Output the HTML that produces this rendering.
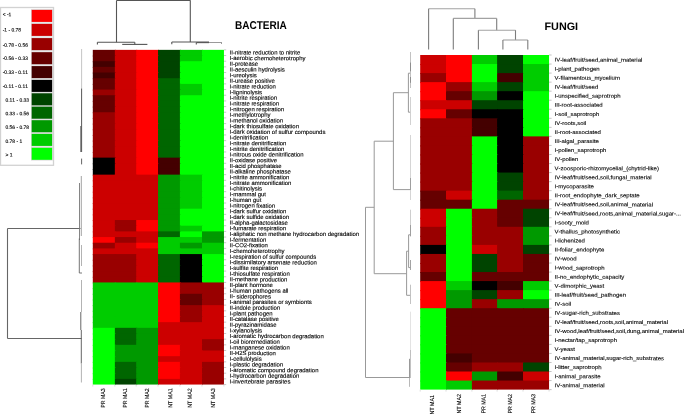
<!DOCTYPE html>
<html><head><meta charset="utf-8"><title>Heatmap</title>
<style>
html,body{margin:0;padding:0;background:#fff;}
body{width:685px;height:414px;overflow:hidden;}
svg{display:block;will-change:transform;text-rendering:geometricPrecision;font-kerning:none;font-family:"Liberation Sans",sans-serif;}
</style></head><body>
<svg width="685" height="414" viewBox="0 0 685 414" shape-rendering="crispEdges">
<rect x="0" y="0" width="685" height="414" fill="#ffffff"/>
<rect x="0.5" y="7.5" width="53" height="157.8" fill="#fff" stroke="#d2d2d2" stroke-width="1.3" shape-rendering="auto"/>
<rect x="31.0" y="9.20" width="21.8" height="13.4" fill="#d6d6d6" shape-rendering="auto"/>
<rect x="31.7" y="9.90" width="20.4" height="12.0" fill="#ff0000" shape-rendering="auto"/>
<text transform="translate(2.7,16.12) rotate(0.05)" font-size="4.95" fill="#000" stroke="#000" stroke-width="0.12">&lt; -1</text>
<rect x="31.0" y="23.20" width="21.8" height="13.4" fill="#d6d6d6" shape-rendering="auto"/>
<rect x="31.7" y="23.90" width="20.4" height="12.0" fill="#cc0000" shape-rendering="auto"/>
<text transform="translate(2.7,31.47) rotate(0.05)" font-size="4.95" fill="#000" stroke="#000" stroke-width="0.12">-1 - 0.78</text>
<rect x="31.0" y="37.40" width="21.8" height="13.4" fill="#d6d6d6" shape-rendering="auto"/>
<rect x="31.7" y="38.10" width="20.4" height="12.0" fill="#990000" shape-rendering="auto"/>
<text transform="translate(2.7,46.77) rotate(0.05)" font-size="4.95" fill="#000" stroke="#000" stroke-width="0.12">-0.78 - 0.56</text>
<rect x="31.0" y="51.50" width="21.8" height="13.4" fill="#d6d6d6" shape-rendering="auto"/>
<rect x="31.7" y="52.20" width="20.4" height="12.0" fill="#660000" shape-rendering="auto"/>
<text transform="translate(2.7,59.87) rotate(0.05)" font-size="4.95" fill="#000" stroke="#000" stroke-width="0.12">-0.56 - 0.33</text>
<rect x="31.0" y="65.40" width="21.8" height="13.4" fill="#d6d6d6" shape-rendering="auto"/>
<rect x="31.7" y="66.10" width="20.4" height="12.0" fill="#440000" shape-rendering="auto"/>
<text transform="translate(2.7,73.87) rotate(0.05)" font-size="4.95" fill="#000" stroke="#000" stroke-width="0.12">-0.33 - 0.11</text>
<rect x="31.0" y="79.20" width="21.8" height="13.4" fill="#d6d6d6" shape-rendering="auto"/>
<rect x="31.7" y="79.90" width="20.4" height="12.0" fill="#000000" shape-rendering="auto"/>
<text transform="translate(2.7,87.97) rotate(0.05)" font-size="4.95" fill="#000" stroke="#000" stroke-width="0.12">-0.11 - 0.11</text>
<rect x="31.0" y="92.60" width="21.8" height="13.4" fill="#d6d6d6" shape-rendering="auto"/>
<rect x="31.7" y="93.30" width="20.4" height="12.0" fill="#004400" shape-rendering="auto"/>
<text transform="translate(5.4,101.77) rotate(0.05)" font-size="4.95" fill="#000" stroke="#000" stroke-width="0.12">0.11 - 0.33</text>
<rect x="31.0" y="106.00" width="21.8" height="13.4" fill="#d6d6d6" shape-rendering="auto"/>
<rect x="31.7" y="106.70" width="20.4" height="12.0" fill="#006600" shape-rendering="auto"/>
<text transform="translate(5.4,115.27) rotate(0.05)" font-size="4.95" fill="#000" stroke="#000" stroke-width="0.12">0.33 - 0.56</text>
<rect x="31.0" y="119.50" width="21.8" height="13.4" fill="#d6d6d6" shape-rendering="auto"/>
<rect x="31.7" y="120.20" width="20.4" height="12.0" fill="#009900" shape-rendering="auto"/>
<text transform="translate(5.4,128.87) rotate(0.05)" font-size="4.95" fill="#000" stroke="#000" stroke-width="0.12">0.56 - 0.78</text>
<rect x="31.0" y="133.20" width="21.8" height="13.4" fill="#d6d6d6" shape-rendering="auto"/>
<rect x="31.7" y="133.90" width="20.4" height="12.0" fill="#00cc00" shape-rendering="auto"/>
<text transform="translate(5.4,142.97) rotate(0.05)" font-size="4.95" fill="#000" stroke="#000" stroke-width="0.12">0.78 - 1</text>
<rect x="31.0" y="147.10" width="21.8" height="13.4" fill="#d6d6d6" shape-rendering="auto"/>
<rect x="31.7" y="147.80" width="20.4" height="12.0" fill="#00ff00" shape-rendering="auto"/>
<text transform="translate(5.4,156.47) rotate(0.05)" font-size="4.95" fill="#000" stroke="#000" stroke-width="0.12">&gt; 1</text>
<g shape-rendering="auto">
<rect x="92.80" y="49.85" width="23.05" height="6.67" fill="#660000"/>
<rect x="114.85" y="49.85" width="22.35" height="6.67" fill="#cc0000"/>
<rect x="136.20" y="49.85" width="22.80" height="6.67" fill="#ff0000"/>
<rect x="158.00" y="49.85" width="22.90" height="6.67" fill="#004400"/>
<rect x="179.90" y="49.85" width="23.10" height="6.67" fill="#00cc00"/>
<rect x="202.00" y="49.85" width="21.95" height="6.67" fill="#00ff00"/>
<rect x="92.80" y="55.52" width="23.05" height="6.67" fill="#660000"/>
<rect x="114.85" y="55.52" width="22.35" height="6.67" fill="#cc0000"/>
<rect x="136.20" y="55.52" width="22.80" height="6.67" fill="#ff0000"/>
<rect x="158.00" y="55.52" width="22.90" height="6.67" fill="#004400"/>
<rect x="179.90" y="55.52" width="23.10" height="6.67" fill="#00cc00"/>
<rect x="202.00" y="55.52" width="21.95" height="6.67" fill="#00ff00"/>
<rect x="92.80" y="61.20" width="23.05" height="6.67" fill="#440000"/>
<rect x="114.85" y="61.20" width="22.35" height="6.67" fill="#cc0000"/>
<rect x="136.20" y="61.20" width="22.80" height="6.67" fill="#ff0000"/>
<rect x="158.00" y="61.20" width="22.90" height="6.67" fill="#004400"/>
<rect x="179.90" y="61.20" width="23.10" height="6.67" fill="#00ff00"/>
<rect x="202.00" y="61.20" width="21.95" height="6.67" fill="#00ff00"/>
<rect x="92.80" y="66.87" width="23.05" height="6.67" fill="#660000"/>
<rect x="114.85" y="66.87" width="22.35" height="6.67" fill="#cc0000"/>
<rect x="136.20" y="66.87" width="22.80" height="6.67" fill="#ff0000"/>
<rect x="158.00" y="66.87" width="22.90" height="6.67" fill="#004400"/>
<rect x="179.90" y="66.87" width="23.10" height="6.67" fill="#00ff00"/>
<rect x="202.00" y="66.87" width="21.95" height="6.67" fill="#00ff00"/>
<rect x="92.80" y="72.54" width="23.05" height="6.67" fill="#440000"/>
<rect x="114.85" y="72.54" width="22.35" height="6.67" fill="#cc0000"/>
<rect x="136.20" y="72.54" width="22.80" height="6.67" fill="#ff0000"/>
<rect x="158.00" y="72.54" width="22.90" height="6.67" fill="#004400"/>
<rect x="179.90" y="72.54" width="23.10" height="6.67" fill="#00ff00"/>
<rect x="202.00" y="72.54" width="21.95" height="6.67" fill="#00ff00"/>
<rect x="92.80" y="78.21" width="23.05" height="6.67" fill="#660000"/>
<rect x="114.85" y="78.21" width="22.35" height="6.67" fill="#cc0000"/>
<rect x="136.20" y="78.21" width="22.80" height="6.67" fill="#ff0000"/>
<rect x="158.00" y="78.21" width="22.90" height="6.67" fill="#006600"/>
<rect x="179.90" y="78.21" width="23.10" height="6.67" fill="#00ff00"/>
<rect x="202.00" y="78.21" width="21.95" height="6.67" fill="#00ff00"/>
<rect x="92.80" y="83.89" width="23.05" height="6.67" fill="#660000"/>
<rect x="114.85" y="83.89" width="22.35" height="6.67" fill="#cc0000"/>
<rect x="136.20" y="83.89" width="22.80" height="6.67" fill="#ff0000"/>
<rect x="158.00" y="83.89" width="22.90" height="6.67" fill="#006600"/>
<rect x="179.90" y="83.89" width="23.10" height="6.67" fill="#00cc00"/>
<rect x="202.00" y="83.89" width="21.95" height="6.67" fill="#00ff00"/>
<rect x="92.80" y="89.56" width="23.05" height="6.67" fill="#990000"/>
<rect x="114.85" y="89.56" width="22.35" height="6.67" fill="#cc0000"/>
<rect x="136.20" y="89.56" width="22.80" height="6.67" fill="#ff0000"/>
<rect x="158.00" y="89.56" width="22.90" height="6.67" fill="#006600"/>
<rect x="179.90" y="89.56" width="23.10" height="6.67" fill="#00cc00"/>
<rect x="202.00" y="89.56" width="21.95" height="6.67" fill="#00ff00"/>
<rect x="92.80" y="95.23" width="23.05" height="6.67" fill="#660000"/>
<rect x="114.85" y="95.23" width="22.35" height="6.67" fill="#cc0000"/>
<rect x="136.20" y="95.23" width="22.80" height="6.67" fill="#ff0000"/>
<rect x="158.00" y="95.23" width="22.90" height="6.67" fill="#006600"/>
<rect x="179.90" y="95.23" width="23.10" height="6.67" fill="#00ff00"/>
<rect x="202.00" y="95.23" width="21.95" height="6.67" fill="#00ff00"/>
<rect x="92.80" y="100.91" width="23.05" height="6.67" fill="#660000"/>
<rect x="114.85" y="100.91" width="22.35" height="6.67" fill="#cc0000"/>
<rect x="136.20" y="100.91" width="22.80" height="6.67" fill="#ff0000"/>
<rect x="158.00" y="100.91" width="22.90" height="6.67" fill="#006600"/>
<rect x="179.90" y="100.91" width="23.10" height="6.67" fill="#00ff00"/>
<rect x="202.00" y="100.91" width="21.95" height="6.67" fill="#00ff00"/>
<rect x="92.80" y="106.58" width="23.05" height="6.67" fill="#660000"/>
<rect x="114.85" y="106.58" width="22.35" height="6.67" fill="#cc0000"/>
<rect x="136.20" y="106.58" width="22.80" height="6.67" fill="#ff0000"/>
<rect x="158.00" y="106.58" width="22.90" height="6.67" fill="#006600"/>
<rect x="179.90" y="106.58" width="23.10" height="6.67" fill="#00ff00"/>
<rect x="202.00" y="106.58" width="21.95" height="6.67" fill="#00ff00"/>
<rect x="92.80" y="112.25" width="23.05" height="6.67" fill="#990000"/>
<rect x="114.85" y="112.25" width="22.35" height="6.67" fill="#cc0000"/>
<rect x="136.20" y="112.25" width="22.80" height="6.67" fill="#ff0000"/>
<rect x="158.00" y="112.25" width="22.90" height="6.67" fill="#006600"/>
<rect x="179.90" y="112.25" width="23.10" height="6.67" fill="#00ff00"/>
<rect x="202.00" y="112.25" width="21.95" height="6.67" fill="#00ff00"/>
<rect x="92.80" y="117.92" width="23.05" height="6.67" fill="#990000"/>
<rect x="114.85" y="117.92" width="22.35" height="6.67" fill="#cc0000"/>
<rect x="136.20" y="117.92" width="22.80" height="6.67" fill="#ff0000"/>
<rect x="158.00" y="117.92" width="22.90" height="6.67" fill="#006600"/>
<rect x="179.90" y="117.92" width="23.10" height="6.67" fill="#00ff00"/>
<rect x="202.00" y="117.92" width="21.95" height="6.67" fill="#00ff00"/>
<rect x="92.80" y="123.60" width="23.05" height="6.67" fill="#990000"/>
<rect x="114.85" y="123.60" width="22.35" height="6.67" fill="#cc0000"/>
<rect x="136.20" y="123.60" width="22.80" height="6.67" fill="#ff0000"/>
<rect x="158.00" y="123.60" width="22.90" height="6.67" fill="#006600"/>
<rect x="179.90" y="123.60" width="23.10" height="6.67" fill="#00ff00"/>
<rect x="202.00" y="123.60" width="21.95" height="6.67" fill="#00ff00"/>
<rect x="92.80" y="129.27" width="23.05" height="6.67" fill="#990000"/>
<rect x="114.85" y="129.27" width="22.35" height="6.67" fill="#cc0000"/>
<rect x="136.20" y="129.27" width="22.80" height="6.67" fill="#ff0000"/>
<rect x="158.00" y="129.27" width="22.90" height="6.67" fill="#006600"/>
<rect x="179.90" y="129.27" width="23.10" height="6.67" fill="#00ff00"/>
<rect x="202.00" y="129.27" width="21.95" height="6.67" fill="#00ff00"/>
<rect x="92.80" y="134.94" width="23.05" height="6.67" fill="#990000"/>
<rect x="114.85" y="134.94" width="22.35" height="6.67" fill="#cc0000"/>
<rect x="136.20" y="134.94" width="22.80" height="6.67" fill="#ff0000"/>
<rect x="158.00" y="134.94" width="22.90" height="6.67" fill="#006600"/>
<rect x="179.90" y="134.94" width="23.10" height="6.67" fill="#00ff00"/>
<rect x="202.00" y="134.94" width="21.95" height="6.67" fill="#00ff00"/>
<rect x="92.80" y="140.62" width="23.05" height="6.67" fill="#990000"/>
<rect x="114.85" y="140.62" width="22.35" height="6.67" fill="#cc0000"/>
<rect x="136.20" y="140.62" width="22.80" height="6.67" fill="#ff0000"/>
<rect x="158.00" y="140.62" width="22.90" height="6.67" fill="#006600"/>
<rect x="179.90" y="140.62" width="23.10" height="6.67" fill="#00ff00"/>
<rect x="202.00" y="140.62" width="21.95" height="6.67" fill="#00ff00"/>
<rect x="92.80" y="146.29" width="23.05" height="6.67" fill="#990000"/>
<rect x="114.85" y="146.29" width="22.35" height="6.67" fill="#cc0000"/>
<rect x="136.20" y="146.29" width="22.80" height="6.67" fill="#ff0000"/>
<rect x="158.00" y="146.29" width="22.90" height="6.67" fill="#006600"/>
<rect x="179.90" y="146.29" width="23.10" height="6.67" fill="#00ff00"/>
<rect x="202.00" y="146.29" width="21.95" height="6.67" fill="#00ff00"/>
<rect x="92.80" y="151.96" width="23.05" height="6.67" fill="#990000"/>
<rect x="114.85" y="151.96" width="22.35" height="6.67" fill="#cc0000"/>
<rect x="136.20" y="151.96" width="22.80" height="6.67" fill="#ff0000"/>
<rect x="158.00" y="151.96" width="22.90" height="6.67" fill="#006600"/>
<rect x="179.90" y="151.96" width="23.10" height="6.67" fill="#00ff00"/>
<rect x="202.00" y="151.96" width="21.95" height="6.67" fill="#00ff00"/>
<rect x="92.80" y="157.63" width="23.05" height="6.67" fill="#000000"/>
<rect x="114.85" y="157.63" width="22.35" height="6.67" fill="#cc0000"/>
<rect x="136.20" y="157.63" width="22.80" height="6.67" fill="#ff0000"/>
<rect x="158.00" y="157.63" width="22.90" height="6.67" fill="#440000"/>
<rect x="179.90" y="157.63" width="23.10" height="6.67" fill="#00ff00"/>
<rect x="202.00" y="157.63" width="21.95" height="6.67" fill="#00ff00"/>
<rect x="92.80" y="163.31" width="23.05" height="6.67" fill="#000000"/>
<rect x="114.85" y="163.31" width="22.35" height="6.67" fill="#cc0000"/>
<rect x="136.20" y="163.31" width="22.80" height="6.67" fill="#ff0000"/>
<rect x="158.00" y="163.31" width="22.90" height="6.67" fill="#440000"/>
<rect x="179.90" y="163.31" width="23.10" height="6.67" fill="#00ff00"/>
<rect x="202.00" y="163.31" width="21.95" height="6.67" fill="#00ff00"/>
<rect x="92.80" y="168.98" width="23.05" height="6.67" fill="#000000"/>
<rect x="114.85" y="168.98" width="22.35" height="6.67" fill="#cc0000"/>
<rect x="136.20" y="168.98" width="22.80" height="6.67" fill="#ff0000"/>
<rect x="158.00" y="168.98" width="22.90" height="6.67" fill="#440000"/>
<rect x="179.90" y="168.98" width="23.10" height="6.67" fill="#00ff00"/>
<rect x="202.00" y="168.98" width="21.95" height="6.67" fill="#00ff00"/>
<rect x="92.80" y="174.65" width="23.05" height="6.67" fill="#cc0000"/>
<rect x="114.85" y="174.65" width="22.35" height="6.67" fill="#cc0000"/>
<rect x="136.20" y="174.65" width="22.80" height="6.67" fill="#cc0000"/>
<rect x="158.00" y="174.65" width="22.90" height="6.67" fill="#009900"/>
<rect x="179.90" y="174.65" width="23.10" height="6.67" fill="#00cc00"/>
<rect x="202.00" y="174.65" width="21.95" height="6.67" fill="#00ff00"/>
<rect x="92.80" y="180.33" width="23.05" height="6.67" fill="#cc0000"/>
<rect x="114.85" y="180.33" width="22.35" height="6.67" fill="#cc0000"/>
<rect x="136.20" y="180.33" width="22.80" height="6.67" fill="#cc0000"/>
<rect x="158.00" y="180.33" width="22.90" height="6.67" fill="#009900"/>
<rect x="179.90" y="180.33" width="23.10" height="6.67" fill="#00cc00"/>
<rect x="202.00" y="180.33" width="21.95" height="6.67" fill="#00ff00"/>
<rect x="92.80" y="186.00" width="23.05" height="6.67" fill="#cc0000"/>
<rect x="114.85" y="186.00" width="22.35" height="6.67" fill="#cc0000"/>
<rect x="136.20" y="186.00" width="22.80" height="6.67" fill="#cc0000"/>
<rect x="158.00" y="186.00" width="22.90" height="6.67" fill="#009900"/>
<rect x="179.90" y="186.00" width="23.10" height="6.67" fill="#00cc00"/>
<rect x="202.00" y="186.00" width="21.95" height="6.67" fill="#00ff00"/>
<rect x="92.80" y="191.67" width="23.05" height="6.67" fill="#cc0000"/>
<rect x="114.85" y="191.67" width="22.35" height="6.67" fill="#cc0000"/>
<rect x="136.20" y="191.67" width="22.80" height="6.67" fill="#cc0000"/>
<rect x="158.00" y="191.67" width="22.90" height="6.67" fill="#009900"/>
<rect x="179.90" y="191.67" width="23.10" height="6.67" fill="#00cc00"/>
<rect x="202.00" y="191.67" width="21.95" height="6.67" fill="#00ff00"/>
<rect x="92.80" y="197.34" width="23.05" height="6.67" fill="#cc0000"/>
<rect x="114.85" y="197.34" width="22.35" height="6.67" fill="#cc0000"/>
<rect x="136.20" y="197.34" width="22.80" height="6.67" fill="#cc0000"/>
<rect x="158.00" y="197.34" width="22.90" height="6.67" fill="#009900"/>
<rect x="179.90" y="197.34" width="23.10" height="6.67" fill="#00cc00"/>
<rect x="202.00" y="197.34" width="21.95" height="6.67" fill="#00ff00"/>
<rect x="92.80" y="203.02" width="23.05" height="6.67" fill="#cc0000"/>
<rect x="114.85" y="203.02" width="22.35" height="6.67" fill="#cc0000"/>
<rect x="136.20" y="203.02" width="22.80" height="6.67" fill="#cc0000"/>
<rect x="158.00" y="203.02" width="22.90" height="6.67" fill="#009900"/>
<rect x="179.90" y="203.02" width="23.10" height="6.67" fill="#00cc00"/>
<rect x="202.00" y="203.02" width="21.95" height="6.67" fill="#00ff00"/>
<rect x="92.80" y="208.69" width="23.05" height="6.67" fill="#cc0000"/>
<rect x="114.85" y="208.69" width="22.35" height="6.67" fill="#cc0000"/>
<rect x="136.20" y="208.69" width="22.80" height="6.67" fill="#cc0000"/>
<rect x="158.00" y="208.69" width="22.90" height="6.67" fill="#009900"/>
<rect x="179.90" y="208.69" width="23.10" height="6.67" fill="#00ff00"/>
<rect x="202.00" y="208.69" width="21.95" height="6.67" fill="#00ff00"/>
<rect x="92.80" y="214.36" width="23.05" height="6.67" fill="#cc0000"/>
<rect x="114.85" y="214.36" width="22.35" height="6.67" fill="#cc0000"/>
<rect x="136.20" y="214.36" width="22.80" height="6.67" fill="#cc0000"/>
<rect x="158.00" y="214.36" width="22.90" height="6.67" fill="#009900"/>
<rect x="179.90" y="214.36" width="23.10" height="6.67" fill="#00ff00"/>
<rect x="202.00" y="214.36" width="21.95" height="6.67" fill="#00ff00"/>
<rect x="92.80" y="220.04" width="23.05" height="6.67" fill="#cc0000"/>
<rect x="114.85" y="220.04" width="22.35" height="6.67" fill="#990000"/>
<rect x="136.20" y="220.04" width="22.80" height="6.67" fill="#ff0000"/>
<rect x="158.00" y="220.04" width="22.90" height="6.67" fill="#009900"/>
<rect x="179.90" y="220.04" width="23.10" height="6.67" fill="#00ff00"/>
<rect x="202.00" y="220.04" width="21.95" height="6.67" fill="#00ff00"/>
<rect x="92.80" y="225.71" width="23.05" height="6.67" fill="#cc0000"/>
<rect x="114.85" y="225.71" width="22.35" height="6.67" fill="#990000"/>
<rect x="136.20" y="225.71" width="22.80" height="6.67" fill="#ff0000"/>
<rect x="158.00" y="225.71" width="22.90" height="6.67" fill="#009900"/>
<rect x="179.90" y="225.71" width="23.10" height="6.67" fill="#00cc00"/>
<rect x="202.00" y="225.71" width="21.95" height="6.67" fill="#00ff00"/>
<rect x="92.80" y="231.38" width="23.05" height="6.67" fill="#cc0000"/>
<rect x="114.85" y="231.38" width="22.35" height="6.67" fill="#cc0000"/>
<rect x="136.20" y="231.38" width="22.80" height="6.67" fill="#cc0000"/>
<rect x="158.00" y="231.38" width="22.90" height="6.67" fill="#006600"/>
<rect x="179.90" y="231.38" width="23.10" height="6.67" fill="#00ff00"/>
<rect x="202.00" y="231.38" width="21.95" height="6.67" fill="#009900"/>
<rect x="92.80" y="237.06" width="23.05" height="6.67" fill="#ff0000"/>
<rect x="114.85" y="237.06" width="22.35" height="6.67" fill="#990000"/>
<rect x="136.20" y="237.06" width="22.80" height="6.67" fill="#cc0000"/>
<rect x="158.00" y="237.06" width="22.90" height="6.67" fill="#00cc00"/>
<rect x="179.90" y="237.06" width="23.10" height="6.67" fill="#00cc00"/>
<rect x="202.00" y="237.06" width="21.95" height="6.67" fill="#009900"/>
<rect x="92.80" y="242.73" width="23.05" height="6.67" fill="#990000"/>
<rect x="114.85" y="242.73" width="22.35" height="6.67" fill="#cc0000"/>
<rect x="136.20" y="242.73" width="22.80" height="6.67" fill="#ff0000"/>
<rect x="158.00" y="242.73" width="22.90" height="6.67" fill="#00cc00"/>
<rect x="179.90" y="242.73" width="23.10" height="6.67" fill="#009900"/>
<rect x="202.00" y="242.73" width="21.95" height="6.67" fill="#00cc00"/>
<rect x="92.80" y="248.40" width="23.05" height="6.67" fill="#cc0000"/>
<rect x="114.85" y="248.40" width="22.35" height="6.67" fill="#cc0000"/>
<rect x="136.20" y="248.40" width="22.80" height="6.67" fill="#cc0000"/>
<rect x="158.00" y="248.40" width="22.90" height="6.67" fill="#00cc00"/>
<rect x="179.90" y="248.40" width="23.10" height="6.67" fill="#00cc00"/>
<rect x="202.00" y="248.40" width="21.95" height="6.67" fill="#00cc00"/>
<rect x="92.80" y="254.07" width="23.05" height="6.67" fill="#990000"/>
<rect x="114.85" y="254.07" width="22.35" height="6.67" fill="#990000"/>
<rect x="136.20" y="254.07" width="22.80" height="6.67" fill="#cc0000"/>
<rect x="158.00" y="254.07" width="22.90" height="6.67" fill="#006600"/>
<rect x="179.90" y="254.07" width="23.10" height="6.67" fill="#000000"/>
<rect x="202.00" y="254.07" width="21.95" height="6.67" fill="#00ff00"/>
<rect x="92.80" y="259.75" width="23.05" height="6.67" fill="#990000"/>
<rect x="114.85" y="259.75" width="22.35" height="6.67" fill="#990000"/>
<rect x="136.20" y="259.75" width="22.80" height="6.67" fill="#cc0000"/>
<rect x="158.00" y="259.75" width="22.90" height="6.67" fill="#006600"/>
<rect x="179.90" y="259.75" width="23.10" height="6.67" fill="#000000"/>
<rect x="202.00" y="259.75" width="21.95" height="6.67" fill="#00ff00"/>
<rect x="92.80" y="265.42" width="23.05" height="6.67" fill="#990000"/>
<rect x="114.85" y="265.42" width="22.35" height="6.67" fill="#990000"/>
<rect x="136.20" y="265.42" width="22.80" height="6.67" fill="#cc0000"/>
<rect x="158.00" y="265.42" width="22.90" height="6.67" fill="#006600"/>
<rect x="179.90" y="265.42" width="23.10" height="6.67" fill="#000000"/>
<rect x="202.00" y="265.42" width="21.95" height="6.67" fill="#00ff00"/>
<rect x="92.80" y="271.09" width="23.05" height="6.67" fill="#990000"/>
<rect x="114.85" y="271.09" width="22.35" height="6.67" fill="#990000"/>
<rect x="136.20" y="271.09" width="22.80" height="6.67" fill="#cc0000"/>
<rect x="158.00" y="271.09" width="22.90" height="6.67" fill="#006600"/>
<rect x="179.90" y="271.09" width="23.10" height="6.67" fill="#000000"/>
<rect x="202.00" y="271.09" width="21.95" height="6.67" fill="#00ff00"/>
<rect x="92.80" y="276.77" width="23.05" height="6.67" fill="#990000"/>
<rect x="114.85" y="276.77" width="22.35" height="6.67" fill="#990000"/>
<rect x="136.20" y="276.77" width="22.80" height="6.67" fill="#cc0000"/>
<rect x="158.00" y="276.77" width="22.90" height="6.67" fill="#006600"/>
<rect x="179.90" y="276.77" width="23.10" height="6.67" fill="#000000"/>
<rect x="202.00" y="276.77" width="21.95" height="6.67" fill="#00ff00"/>
<rect x="92.80" y="282.44" width="23.05" height="6.67" fill="#00cc00"/>
<rect x="114.85" y="282.44" width="22.35" height="6.67" fill="#00cc00"/>
<rect x="136.20" y="282.44" width="22.80" height="6.67" fill="#00cc00"/>
<rect x="158.00" y="282.44" width="22.90" height="6.67" fill="#ff0000"/>
<rect x="179.90" y="282.44" width="23.10" height="6.67" fill="#990000"/>
<rect x="202.00" y="282.44" width="21.95" height="6.67" fill="#990000"/>
<rect x="92.80" y="288.11" width="23.05" height="6.67" fill="#00cc00"/>
<rect x="114.85" y="288.11" width="22.35" height="6.67" fill="#00cc00"/>
<rect x="136.20" y="288.11" width="22.80" height="6.67" fill="#00cc00"/>
<rect x="158.00" y="288.11" width="22.90" height="6.67" fill="#ff0000"/>
<rect x="179.90" y="288.11" width="23.10" height="6.67" fill="#990000"/>
<rect x="202.00" y="288.11" width="21.95" height="6.67" fill="#990000"/>
<rect x="92.80" y="293.78" width="23.05" height="6.67" fill="#00cc00"/>
<rect x="114.85" y="293.78" width="22.35" height="6.67" fill="#00cc00"/>
<rect x="136.20" y="293.78" width="22.80" height="6.67" fill="#00cc00"/>
<rect x="158.00" y="293.78" width="22.90" height="6.67" fill="#ff0000"/>
<rect x="179.90" y="293.78" width="23.10" height="6.67" fill="#660000"/>
<rect x="202.00" y="293.78" width="21.95" height="6.67" fill="#990000"/>
<rect x="92.80" y="299.46" width="23.05" height="6.67" fill="#00cc00"/>
<rect x="114.85" y="299.46" width="22.35" height="6.67" fill="#00cc00"/>
<rect x="136.20" y="299.46" width="22.80" height="6.67" fill="#00cc00"/>
<rect x="158.00" y="299.46" width="22.90" height="6.67" fill="#ff0000"/>
<rect x="179.90" y="299.46" width="23.10" height="6.67" fill="#660000"/>
<rect x="202.00" y="299.46" width="21.95" height="6.67" fill="#990000"/>
<rect x="92.80" y="305.13" width="23.05" height="6.67" fill="#00cc00"/>
<rect x="114.85" y="305.13" width="22.35" height="6.67" fill="#00cc00"/>
<rect x="136.20" y="305.13" width="22.80" height="6.67" fill="#00cc00"/>
<rect x="158.00" y="305.13" width="22.90" height="6.67" fill="#ff0000"/>
<rect x="179.90" y="305.13" width="23.10" height="6.67" fill="#990000"/>
<rect x="202.00" y="305.13" width="21.95" height="6.67" fill="#cc0000"/>
<rect x="92.80" y="310.80" width="23.05" height="6.67" fill="#00cc00"/>
<rect x="114.85" y="310.80" width="22.35" height="6.67" fill="#00cc00"/>
<rect x="136.20" y="310.80" width="22.80" height="6.67" fill="#00cc00"/>
<rect x="158.00" y="310.80" width="22.90" height="6.67" fill="#ff0000"/>
<rect x="179.90" y="310.80" width="23.10" height="6.67" fill="#990000"/>
<rect x="202.00" y="310.80" width="21.95" height="6.67" fill="#cc0000"/>
<rect x="92.80" y="316.48" width="23.05" height="6.67" fill="#00cc00"/>
<rect x="114.85" y="316.48" width="22.35" height="6.67" fill="#00cc00"/>
<rect x="136.20" y="316.48" width="22.80" height="6.67" fill="#00cc00"/>
<rect x="158.00" y="316.48" width="22.90" height="6.67" fill="#ff0000"/>
<rect x="179.90" y="316.48" width="23.10" height="6.67" fill="#990000"/>
<rect x="202.00" y="316.48" width="21.95" height="6.67" fill="#cc0000"/>
<rect x="92.80" y="322.15" width="23.05" height="6.67" fill="#00cc00"/>
<rect x="114.85" y="322.15" width="22.35" height="6.67" fill="#00cc00"/>
<rect x="136.20" y="322.15" width="22.80" height="6.67" fill="#00cc00"/>
<rect x="158.00" y="322.15" width="22.90" height="6.67" fill="#cc0000"/>
<rect x="179.90" y="322.15" width="23.10" height="6.67" fill="#cc0000"/>
<rect x="202.00" y="322.15" width="21.95" height="6.67" fill="#cc0000"/>
<rect x="92.80" y="327.82" width="23.05" height="6.67" fill="#00ff00"/>
<rect x="114.85" y="327.82" width="22.35" height="6.67" fill="#006600"/>
<rect x="136.20" y="327.82" width="22.80" height="6.67" fill="#009900"/>
<rect x="158.00" y="327.82" width="22.90" height="6.67" fill="#cc0000"/>
<rect x="179.90" y="327.82" width="23.10" height="6.67" fill="#cc0000"/>
<rect x="202.00" y="327.82" width="21.95" height="6.67" fill="#cc0000"/>
<rect x="92.80" y="333.49" width="23.05" height="6.67" fill="#00ff00"/>
<rect x="114.85" y="333.49" width="22.35" height="6.67" fill="#006600"/>
<rect x="136.20" y="333.49" width="22.80" height="6.67" fill="#009900"/>
<rect x="158.00" y="333.49" width="22.90" height="6.67" fill="#cc0000"/>
<rect x="179.90" y="333.49" width="23.10" height="6.67" fill="#cc0000"/>
<rect x="202.00" y="333.49" width="21.95" height="6.67" fill="#cc0000"/>
<rect x="92.80" y="339.17" width="23.05" height="6.67" fill="#00ff00"/>
<rect x="114.85" y="339.17" width="22.35" height="6.67" fill="#006600"/>
<rect x="136.20" y="339.17" width="22.80" height="6.67" fill="#009900"/>
<rect x="158.00" y="339.17" width="22.90" height="6.67" fill="#cc0000"/>
<rect x="179.90" y="339.17" width="23.10" height="6.67" fill="#cc0000"/>
<rect x="202.00" y="339.17" width="21.95" height="6.67" fill="#990000"/>
<rect x="92.80" y="344.84" width="23.05" height="6.67" fill="#00ff00"/>
<rect x="114.85" y="344.84" width="22.35" height="6.67" fill="#009900"/>
<rect x="136.20" y="344.84" width="22.80" height="6.67" fill="#009900"/>
<rect x="158.00" y="344.84" width="22.90" height="6.67" fill="#ff0000"/>
<rect x="179.90" y="344.84" width="23.10" height="6.67" fill="#cc0000"/>
<rect x="202.00" y="344.84" width="21.95" height="6.67" fill="#990000"/>
<rect x="92.80" y="350.51" width="23.05" height="6.67" fill="#00ff00"/>
<rect x="114.85" y="350.51" width="22.35" height="6.67" fill="#009900"/>
<rect x="136.20" y="350.51" width="22.80" height="6.67" fill="#009900"/>
<rect x="158.00" y="350.51" width="22.90" height="6.67" fill="#ff0000"/>
<rect x="179.90" y="350.51" width="23.10" height="6.67" fill="#cc0000"/>
<rect x="202.00" y="350.51" width="21.95" height="6.67" fill="#cc0000"/>
<rect x="92.80" y="356.19" width="23.05" height="6.67" fill="#00ff00"/>
<rect x="114.85" y="356.19" width="22.35" height="6.67" fill="#009900"/>
<rect x="136.20" y="356.19" width="22.80" height="6.67" fill="#009900"/>
<rect x="158.00" y="356.19" width="22.90" height="6.67" fill="#cc0000"/>
<rect x="179.90" y="356.19" width="23.10" height="6.67" fill="#cc0000"/>
<rect x="202.00" y="356.19" width="21.95" height="6.67" fill="#cc0000"/>
<rect x="92.80" y="361.86" width="23.05" height="6.67" fill="#00ff00"/>
<rect x="114.85" y="361.86" width="22.35" height="6.67" fill="#006600"/>
<rect x="136.20" y="361.86" width="22.80" height="6.67" fill="#009900"/>
<rect x="158.00" y="361.86" width="22.90" height="6.67" fill="#ff0000"/>
<rect x="179.90" y="361.86" width="23.10" height="6.67" fill="#cc0000"/>
<rect x="202.00" y="361.86" width="21.95" height="6.67" fill="#990000"/>
<rect x="92.80" y="367.53" width="23.05" height="6.67" fill="#00ff00"/>
<rect x="114.85" y="367.53" width="22.35" height="6.67" fill="#006600"/>
<rect x="136.20" y="367.53" width="22.80" height="6.67" fill="#009900"/>
<rect x="158.00" y="367.53" width="22.90" height="6.67" fill="#ff0000"/>
<rect x="179.90" y="367.53" width="23.10" height="6.67" fill="#cc0000"/>
<rect x="202.00" y="367.53" width="21.95" height="6.67" fill="#990000"/>
<rect x="92.80" y="373.20" width="23.05" height="6.67" fill="#00ff00"/>
<rect x="114.85" y="373.20" width="22.35" height="6.67" fill="#006600"/>
<rect x="136.20" y="373.20" width="22.80" height="6.67" fill="#009900"/>
<rect x="158.00" y="373.20" width="22.90" height="6.67" fill="#ff0000"/>
<rect x="179.90" y="373.20" width="23.10" height="6.67" fill="#cc0000"/>
<rect x="202.00" y="373.20" width="21.95" height="6.67" fill="#990000"/>
<rect x="92.80" y="378.88" width="23.05" height="5.67" fill="#00ff00"/>
<rect x="114.85" y="378.88" width="22.35" height="5.67" fill="#004400"/>
<rect x="136.20" y="378.88" width="22.80" height="5.67" fill="#009900"/>
<rect x="158.00" y="378.88" width="22.90" height="5.67" fill="#cc0000"/>
<rect x="179.90" y="378.88" width="23.10" height="5.67" fill="#cc0000"/>
<rect x="202.00" y="378.88" width="21.95" height="5.67" fill="#990000"/>
</g>
<line x1="224.00" y1="49.85" x2="226.20" y2="49.85" stroke="#b0b0b0" stroke-width="0.7" shape-rendering="auto"/>
<line x1="224.00" y1="55.52" x2="226.20" y2="55.52" stroke="#b0b0b0" stroke-width="0.7" shape-rendering="auto"/>
<line x1="224.00" y1="61.20" x2="226.20" y2="61.20" stroke="#b0b0b0" stroke-width="0.7" shape-rendering="auto"/>
<line x1="224.00" y1="66.87" x2="226.20" y2="66.87" stroke="#b0b0b0" stroke-width="0.7" shape-rendering="auto"/>
<line x1="224.00" y1="72.54" x2="226.20" y2="72.54" stroke="#b0b0b0" stroke-width="0.7" shape-rendering="auto"/>
<line x1="224.00" y1="78.21" x2="226.20" y2="78.21" stroke="#b0b0b0" stroke-width="0.7" shape-rendering="auto"/>
<line x1="224.00" y1="83.89" x2="226.20" y2="83.89" stroke="#b0b0b0" stroke-width="0.7" shape-rendering="auto"/>
<line x1="224.00" y1="89.56" x2="226.20" y2="89.56" stroke="#b0b0b0" stroke-width="0.7" shape-rendering="auto"/>
<line x1="224.00" y1="95.23" x2="226.20" y2="95.23" stroke="#b0b0b0" stroke-width="0.7" shape-rendering="auto"/>
<line x1="224.00" y1="100.91" x2="226.20" y2="100.91" stroke="#b0b0b0" stroke-width="0.7" shape-rendering="auto"/>
<line x1="224.00" y1="106.58" x2="226.20" y2="106.58" stroke="#b0b0b0" stroke-width="0.7" shape-rendering="auto"/>
<line x1="224.00" y1="112.25" x2="226.20" y2="112.25" stroke="#b0b0b0" stroke-width="0.7" shape-rendering="auto"/>
<line x1="224.00" y1="117.92" x2="226.20" y2="117.92" stroke="#b0b0b0" stroke-width="0.7" shape-rendering="auto"/>
<line x1="224.00" y1="123.60" x2="226.20" y2="123.60" stroke="#b0b0b0" stroke-width="0.7" shape-rendering="auto"/>
<line x1="224.00" y1="129.27" x2="226.20" y2="129.27" stroke="#b0b0b0" stroke-width="0.7" shape-rendering="auto"/>
<line x1="224.00" y1="134.94" x2="226.20" y2="134.94" stroke="#b0b0b0" stroke-width="0.7" shape-rendering="auto"/>
<line x1="224.00" y1="140.62" x2="226.20" y2="140.62" stroke="#b0b0b0" stroke-width="0.7" shape-rendering="auto"/>
<line x1="224.00" y1="146.29" x2="226.20" y2="146.29" stroke="#b0b0b0" stroke-width="0.7" shape-rendering="auto"/>
<line x1="224.00" y1="151.96" x2="226.20" y2="151.96" stroke="#b0b0b0" stroke-width="0.7" shape-rendering="auto"/>
<line x1="224.00" y1="157.63" x2="226.20" y2="157.63" stroke="#b0b0b0" stroke-width="0.7" shape-rendering="auto"/>
<line x1="224.00" y1="163.31" x2="226.20" y2="163.31" stroke="#b0b0b0" stroke-width="0.7" shape-rendering="auto"/>
<line x1="224.00" y1="168.98" x2="226.20" y2="168.98" stroke="#b0b0b0" stroke-width="0.7" shape-rendering="auto"/>
<line x1="224.00" y1="174.65" x2="226.20" y2="174.65" stroke="#b0b0b0" stroke-width="0.7" shape-rendering="auto"/>
<line x1="224.00" y1="180.33" x2="226.20" y2="180.33" stroke="#b0b0b0" stroke-width="0.7" shape-rendering="auto"/>
<line x1="224.00" y1="186.00" x2="226.20" y2="186.00" stroke="#b0b0b0" stroke-width="0.7" shape-rendering="auto"/>
<line x1="224.00" y1="191.67" x2="226.20" y2="191.67" stroke="#b0b0b0" stroke-width="0.7" shape-rendering="auto"/>
<line x1="224.00" y1="197.34" x2="226.20" y2="197.34" stroke="#b0b0b0" stroke-width="0.7" shape-rendering="auto"/>
<line x1="224.00" y1="203.02" x2="226.20" y2="203.02" stroke="#b0b0b0" stroke-width="0.7" shape-rendering="auto"/>
<line x1="224.00" y1="208.69" x2="226.20" y2="208.69" stroke="#b0b0b0" stroke-width="0.7" shape-rendering="auto"/>
<line x1="224.00" y1="214.36" x2="226.20" y2="214.36" stroke="#b0b0b0" stroke-width="0.7" shape-rendering="auto"/>
<line x1="224.00" y1="220.04" x2="226.20" y2="220.04" stroke="#b0b0b0" stroke-width="0.7" shape-rendering="auto"/>
<line x1="224.00" y1="225.71" x2="226.20" y2="225.71" stroke="#b0b0b0" stroke-width="0.7" shape-rendering="auto"/>
<line x1="224.00" y1="231.38" x2="226.20" y2="231.38" stroke="#b0b0b0" stroke-width="0.7" shape-rendering="auto"/>
<line x1="224.00" y1="237.06" x2="226.20" y2="237.06" stroke="#b0b0b0" stroke-width="0.7" shape-rendering="auto"/>
<line x1="224.00" y1="242.73" x2="226.20" y2="242.73" stroke="#b0b0b0" stroke-width="0.7" shape-rendering="auto"/>
<line x1="224.00" y1="248.40" x2="226.20" y2="248.40" stroke="#b0b0b0" stroke-width="0.7" shape-rendering="auto"/>
<line x1="224.00" y1="254.07" x2="226.20" y2="254.07" stroke="#b0b0b0" stroke-width="0.7" shape-rendering="auto"/>
<line x1="224.00" y1="259.75" x2="226.20" y2="259.75" stroke="#b0b0b0" stroke-width="0.7" shape-rendering="auto"/>
<line x1="224.00" y1="265.42" x2="226.20" y2="265.42" stroke="#b0b0b0" stroke-width="0.7" shape-rendering="auto"/>
<line x1="224.00" y1="271.09" x2="226.20" y2="271.09" stroke="#b0b0b0" stroke-width="0.7" shape-rendering="auto"/>
<line x1="224.00" y1="276.77" x2="226.20" y2="276.77" stroke="#b0b0b0" stroke-width="0.7" shape-rendering="auto"/>
<line x1="224.00" y1="282.44" x2="226.20" y2="282.44" stroke="#b0b0b0" stroke-width="0.7" shape-rendering="auto"/>
<line x1="224.00" y1="288.11" x2="226.20" y2="288.11" stroke="#b0b0b0" stroke-width="0.7" shape-rendering="auto"/>
<line x1="224.00" y1="293.78" x2="226.20" y2="293.78" stroke="#b0b0b0" stroke-width="0.7" shape-rendering="auto"/>
<line x1="224.00" y1="299.46" x2="226.20" y2="299.46" stroke="#b0b0b0" stroke-width="0.7" shape-rendering="auto"/>
<line x1="224.00" y1="305.13" x2="226.20" y2="305.13" stroke="#b0b0b0" stroke-width="0.7" shape-rendering="auto"/>
<line x1="224.00" y1="310.80" x2="226.20" y2="310.80" stroke="#b0b0b0" stroke-width="0.7" shape-rendering="auto"/>
<line x1="224.00" y1="316.48" x2="226.20" y2="316.48" stroke="#b0b0b0" stroke-width="0.7" shape-rendering="auto"/>
<line x1="224.00" y1="322.15" x2="226.20" y2="322.15" stroke="#b0b0b0" stroke-width="0.7" shape-rendering="auto"/>
<line x1="224.00" y1="327.82" x2="226.20" y2="327.82" stroke="#b0b0b0" stroke-width="0.7" shape-rendering="auto"/>
<line x1="224.00" y1="333.49" x2="226.20" y2="333.49" stroke="#b0b0b0" stroke-width="0.7" shape-rendering="auto"/>
<line x1="224.00" y1="339.17" x2="226.20" y2="339.17" stroke="#b0b0b0" stroke-width="0.7" shape-rendering="auto"/>
<line x1="224.00" y1="344.84" x2="226.20" y2="344.84" stroke="#b0b0b0" stroke-width="0.7" shape-rendering="auto"/>
<line x1="224.00" y1="350.51" x2="226.20" y2="350.51" stroke="#b0b0b0" stroke-width="0.7" shape-rendering="auto"/>
<line x1="224.00" y1="356.19" x2="226.20" y2="356.19" stroke="#b0b0b0" stroke-width="0.7" shape-rendering="auto"/>
<line x1="224.00" y1="361.86" x2="226.20" y2="361.86" stroke="#b0b0b0" stroke-width="0.7" shape-rendering="auto"/>
<line x1="224.00" y1="367.53" x2="226.20" y2="367.53" stroke="#b0b0b0" stroke-width="0.7" shape-rendering="auto"/>
<line x1="224.00" y1="373.20" x2="226.20" y2="373.20" stroke="#b0b0b0" stroke-width="0.7" shape-rendering="auto"/>
<line x1="224.00" y1="378.88" x2="226.20" y2="378.88" stroke="#b0b0b0" stroke-width="0.7" shape-rendering="auto"/>
<line x1="224.00" y1="384.55" x2="226.20" y2="384.55" stroke="#b0b0b0" stroke-width="0.7" shape-rendering="auto"/>
<line x1="92.80" y1="384.55" x2="92.80" y2="386.55" stroke="#c8c8c8" stroke-width="0.6" shape-rendering="auto"/>
<line x1="114.85" y1="384.55" x2="114.85" y2="386.55" stroke="#c8c8c8" stroke-width="0.6" shape-rendering="auto"/>
<line x1="136.20" y1="384.55" x2="136.20" y2="386.55" stroke="#c8c8c8" stroke-width="0.6" shape-rendering="auto"/>
<line x1="158.00" y1="384.55" x2="158.00" y2="386.55" stroke="#c8c8c8" stroke-width="0.6" shape-rendering="auto"/>
<line x1="179.90" y1="384.55" x2="179.90" y2="386.55" stroke="#c8c8c8" stroke-width="0.6" shape-rendering="auto"/>
<line x1="202.00" y1="384.55" x2="202.00" y2="386.55" stroke="#c8c8c8" stroke-width="0.6" shape-rendering="auto"/>
<line x1="223.95" y1="384.55" x2="223.95" y2="386.55" stroke="#c8c8c8" stroke-width="0.6" shape-rendering="auto"/>
<g font-size="5.9" fill="#000" stroke="#000" stroke-width="0.12">
<text transform="translate(229.6,54.436) scale(1.0085,1) rotate(0.05)">II-nitrate reduction to nitrite</text>
<text transform="translate(229.6,60.109) scale(1.0085,1) rotate(0.05)">I-aerobic chemoheterotrophy</text>
<text transform="translate(229.6,65.782) scale(1.0085,1) rotate(0.05)">II-protease</text>
<text transform="translate(229.6,71.455) scale(1.0085,1) rotate(0.05)">II-aesculin hydrolysis</text>
<text transform="translate(229.6,77.128) scale(1.0085,1) rotate(0.05)">I-ureolysis</text>
<text transform="translate(229.6,82.801) scale(1.0085,1) rotate(0.05)">II-urease positive</text>
<text transform="translate(229.6,88.474) scale(1.0085,1) rotate(0.05)">I-nitrate reduction</text>
<text transform="translate(229.6,94.147) scale(1.0085,1) rotate(0.05)">I-ligninolysis</text>
<text transform="translate(229.6,99.819) scale(1.0085,1) rotate(0.05)">I-nitrite respiration</text>
<text transform="translate(229.6,105.492) scale(1.0085,1) rotate(0.05)">I-nitrate respiration</text>
<text transform="translate(229.6,111.165) scale(1.0085,1) rotate(0.05)">I-nitrogen respiration</text>
<text transform="translate(229.6,116.838) scale(1.0085,1) rotate(0.05)">I-methylotrophy</text>
<text transform="translate(229.6,122.511) scale(1.0085,1) rotate(0.05)">I-methanol oxidation</text>
<text transform="translate(229.6,128.184) scale(1.0085,1) rotate(0.05)">I-dark thiosulfate oxidation</text>
<text transform="translate(229.6,133.857) scale(1.0085,1) rotate(0.05)">I-dark oxidation of sulfur compounds</text>
<text transform="translate(229.6,139.530) scale(1.0085,1) rotate(0.05)">I-denitrification</text>
<text transform="translate(229.6,145.203) scale(1.0085,1) rotate(0.05)">I-nitrate denitrification</text>
<text transform="translate(229.6,150.875) scale(1.0085,1) rotate(0.05)">I-nitrite denitrification</text>
<text transform="translate(229.6,156.548) scale(1.0085,1) rotate(0.05)">I-nitrous oxide denitrification</text>
<text transform="translate(229.6,162.221) scale(1.0085,1) rotate(0.05)">II-oxidase positive</text>
<text transform="translate(229.6,167.894) scale(1.0085,1) rotate(0.05)">II-acid phosphatase</text>
<text transform="translate(229.6,173.567) scale(1.0085,1) rotate(0.05)">II-alkaline phosphatase</text>
<text transform="translate(229.6,179.240) scale(1.0085,1) rotate(0.05)">I-nitrite ammonification</text>
<text transform="translate(229.6,184.913) scale(1.0085,1) rotate(0.05)">I-nitrate ammonification</text>
<text transform="translate(229.6,190.586) scale(1.0085,1) rotate(0.05)">I-chitinolysis</text>
<text transform="translate(229.6,196.258) scale(1.0085,1) rotate(0.05)">I-mammal gut</text>
<text transform="translate(229.6,201.931) scale(1.0085,1) rotate(0.05)">I-human gut</text>
<text transform="translate(229.6,207.604) scale(1.0085,1) rotate(0.05)">I-nitrogen fixation</text>
<text transform="translate(229.6,213.277) scale(1.0085,1) rotate(0.05)">I-dark sulfur oxidation</text>
<text transform="translate(229.6,218.950) scale(1.0085,1) rotate(0.05)">I-dark sulfide oxidation</text>
<text transform="translate(229.6,224.623) scale(1.0085,1) rotate(0.05)">II-alpha-galactosidase</text>
<text transform="translate(229.6,230.296) scale(1.0085,1) rotate(0.05)">I-fumarate respiration</text>
<text transform="translate(229.6,235.969) scale(1.0085,1) rotate(0.05)">I-aliphatic non methane hydrocarbon degradation</text>
<text transform="translate(229.6,241.642) scale(1.0085,1) rotate(0.05)">I-fermentation</text>
<text transform="translate(229.6,247.314) scale(1.0085,1) rotate(0.05)">II-CO2-fixation</text>
<text transform="translate(229.6,252.987) scale(1.0085,1) rotate(0.05)">I-chemoheterotrophy</text>
<text transform="translate(229.6,258.660) scale(1.0085,1) rotate(0.05)">I-respiration of sulfur compounds</text>
<text transform="translate(229.6,264.333) scale(1.0085,1) rotate(0.05)">I-dissimilatory arsenate reduction</text>
<text transform="translate(229.6,270.006) scale(1.0085,1) rotate(0.05)">I-sulfite respiration</text>
<text transform="translate(229.6,275.679) scale(1.0085,1) rotate(0.05)">I-thiosulfate respiration</text>
<text transform="translate(229.6,281.352) scale(1.0085,1) rotate(0.05)">II-methane production</text>
<text transform="translate(229.6,287.025) scale(1.0085,1) rotate(0.05)">II-plant hormone</text>
<text transform="translate(229.6,292.697) scale(1.0085,1) rotate(0.05)">I-human pathogens all</text>
<text transform="translate(229.6,298.370) scale(1.0085,1) rotate(0.05)">II- siderophores</text>
<text transform="translate(229.6,304.043) scale(1.0085,1) rotate(0.05)">I-animal parasites or symbionts</text>
<text transform="translate(229.6,309.716) scale(1.0085,1) rotate(0.05)">II-indole production</text>
<text transform="translate(229.6,315.389) scale(1.0085,1) rotate(0.05)">I-plant pathogen</text>
<text transform="translate(229.6,321.062) scale(1.0085,1) rotate(0.05)">II-catalase positive</text>
<text transform="translate(229.6,326.735) scale(1.0085,1) rotate(0.05)">II-pyrazinamidase</text>
<text transform="translate(229.6,332.408) scale(1.0085,1) rotate(0.05)">I-xylanolysis</text>
<text transform="translate(229.6,338.081) scale(1.0085,1) rotate(0.05)">I-aromatic hydrocarbon degradation</text>
<text transform="translate(229.6,343.753) scale(1.0085,1) rotate(0.05)">I-oil bioremediation</text>
<text transform="translate(229.6,349.426) scale(1.0085,1) rotate(0.05)">I-manganese oxidation</text>
<text transform="translate(229.6,355.099) scale(1.0085,1) rotate(0.05)">II-H2S production</text>
<text transform="translate(229.6,360.772) scale(1.0085,1) rotate(0.05)">I-cellulolysis</text>
<text transform="translate(229.6,366.445) scale(1.0085,1) rotate(0.05)">I-plastic degradation</text>
<text transform="translate(229.6,372.118) scale(1.0085,1) rotate(0.05)">I-aromatic compound degradation</text>
<text transform="translate(229.6,377.791) scale(1.0085,1) rotate(0.05)">I-hydrocarbon degradation</text>
<text transform="translate(229.6,383.464) scale(1.0085,1) rotate(0.05)">I-invertebrate parasites</text>
</g>
<text transform="translate(105.00,388.4) rotate(-89.95)" font-size="5.9" text-anchor="end" fill="#000" stroke="#000" stroke-width="0.1" textLength="19.3" lengthAdjust="spacingAndGlyphs">PR MA3</text>
<text transform="translate(127.00,388.4) rotate(-89.95)" font-size="5.9" text-anchor="end" fill="#000" stroke="#000" stroke-width="0.1" textLength="19.3" lengthAdjust="spacingAndGlyphs">PR MA1</text>
<text transform="translate(149.10,388.4) rotate(-89.95)" font-size="5.9" text-anchor="end" fill="#000" stroke="#000" stroke-width="0.1" textLength="19.3" lengthAdjust="spacingAndGlyphs">PR MA2</text>
<text transform="translate(172.20,388.4) rotate(-89.95)" font-size="5.9" text-anchor="end" fill="#000" stroke="#000" stroke-width="0.1" textLength="19.3" lengthAdjust="spacingAndGlyphs">NT MA1</text>
<text transform="translate(191.80,388.4) rotate(-89.95)" font-size="5.9" text-anchor="end" fill="#000" stroke="#000" stroke-width="0.1" textLength="19.3" lengthAdjust="spacingAndGlyphs">NT MA2</text>
<text transform="translate(215.10,388.4) rotate(-89.95)" font-size="5.9" text-anchor="end" fill="#000" stroke="#000" stroke-width="0.1" textLength="19.3" lengthAdjust="spacingAndGlyphs">NT MA3</text>
<line x1="116.5" y1="0.5" x2="190.5" y2="0.5" stroke="#555" stroke-width="1.1" fill="none" shape-rendering="auto"/>
<line x1="116.5" y1="0.5" x2="116.5" y2="42.2" stroke="#555" stroke-width="1.1" fill="none" shape-rendering="auto"/>
<line x1="190.3" y1="0.5" x2="190.3" y2="42.0" stroke="#555" stroke-width="1.1" fill="none" shape-rendering="auto"/>
<line x1="97.4" y1="42.2" x2="134.8" y2="42.2" stroke="#555" stroke-width="1.1" fill="none" shape-rendering="auto"/>
<line x1="97.4" y1="42.2" x2="97.4" y2="44.5" stroke="#555" stroke-width="1.1" fill="none" shape-rendering="auto"/>
<line x1="134.8" y1="42.2" x2="134.8" y2="44.4" stroke="#555" stroke-width="1.1" fill="none" shape-rendering="auto"/>
<line x1="122.2" y1="44.4" x2="147.4" y2="44.4" stroke="#555" stroke-width="1.1" fill="none" shape-rendering="auto"/>
<line x1="171.8" y1="42.0" x2="209.0" y2="42.0" stroke="#555" stroke-width="1.1" fill="none" shape-rendering="auto"/>
<line x1="171.8" y1="42.0" x2="171.8" y2="44.3" stroke="#555" stroke-width="1.1" fill="none" shape-rendering="auto"/>
<line x1="196.3" y1="42.6" x2="209.0" y2="42.6" stroke="#555" stroke-width="1.1" fill="none" shape-rendering="auto"/>
<line x1="196.3" y1="42.6" x2="196.3" y2="44.4" stroke="#555" stroke-width="1.1" fill="none" shape-rendering="auto"/>
<path d="M209,42.6 H221.3 V44.4" stroke="#9a9a9a" stroke-width="1.1" fill="none"/>
<line x1="7.5" y1="228.5" x2="80.5" y2="228.5" stroke="#666" stroke-width="1.1" fill="none" shape-rendering="auto"/>
<line x1="7.5" y1="228.5" x2="7.5" y2="338.5" stroke="#666" stroke-width="1.1" fill="none" shape-rendering="auto"/>
<line x1="7.5" y1="338.5" x2="81.5" y2="338.5" stroke="#666" stroke-width="1.1" fill="none" shape-rendering="auto"/>
<line x1="81.6" y1="49" x2="81.6" y2="88.5" stroke="#c0c0c0" stroke-width="0.9" shape-rendering="auto"/>
<line x1="81.6" y1="88.5" x2="81.6" y2="152" stroke="#444" stroke-width="0.9" shape-rendering="auto"/>
<line x1="80.8" y1="126" x2="80.8" y2="152" stroke="#555" stroke-width="0.9" shape-rendering="auto"/>
<line x1="81.6" y1="158.6" x2="81.6" y2="164.4" stroke="#555" stroke-width="0.9" shape-rendering="auto"/>
<line x1="81.3" y1="176" x2="81.3" y2="236" stroke="#999" stroke-width="0.9" shape-rendering="auto"/>
<line x1="79.5" y1="183" x2="79.5" y2="240" stroke="#777" stroke-width="0.9" shape-rendering="auto"/>
<line x1="79.3" y1="238.5" x2="79.3" y2="273" stroke="#666" stroke-width="0.9" shape-rendering="auto"/>
<line x1="81.5" y1="245" x2="81.5" y2="266" stroke="#aaa" stroke-width="0.9" shape-rendering="auto"/>
<line x1="81.5" y1="280" x2="81.5" y2="312" stroke="#aaa" stroke-width="0.9" shape-rendering="auto"/>
<line x1="80.8" y1="312" x2="80.8" y2="330" stroke="#555" stroke-width="0.9" shape-rendering="auto"/>
<line x1="81.3" y1="330" x2="81.3" y2="363.5" stroke="#555" stroke-width="0.9" shape-rendering="auto"/>
<line x1="81.4" y1="363.5" x2="81.4" y2="382.5" stroke="#aaa" stroke-width="0.9" shape-rendering="auto"/>
<line x1="79.3" y1="273" x2="82" y2="273" stroke="#666" stroke-width="0.9" shape-rendering="auto"/>
<text x="234.9" y="28.5" font-size="11.3" font-weight="bold" fill="#000" textLength="51.9" lengthAdjust="spacingAndGlyphs">BACTERIA</text>
<text x="544.5" y="29.6" font-size="10.8" font-weight="bold" fill="#000" textLength="33.6" lengthAdjust="spacingAndGlyphs">FUNGI</text>
<g shape-rendering="auto">
<rect x="420.20" y="55.00" width="26.80" height="10.04" fill="#cc0000"/>
<rect x="446.00" y="55.00" width="26.90" height="10.04" fill="#ff0000"/>
<rect x="471.90" y="55.00" width="26.20" height="10.04" fill="#00cc00"/>
<rect x="497.10" y="55.00" width="26.90" height="10.04" fill="#004400"/>
<rect x="523.00" y="55.00" width="26.05" height="10.04" fill="#00ff00"/>
<rect x="420.20" y="64.04" width="26.80" height="10.04" fill="#cc0000"/>
<rect x="446.00" y="64.04" width="26.90" height="10.04" fill="#ff0000"/>
<rect x="471.90" y="64.04" width="26.20" height="10.04" fill="#00ff00"/>
<rect x="497.10" y="64.04" width="26.90" height="10.04" fill="#004400"/>
<rect x="523.00" y="64.04" width="26.05" height="10.04" fill="#00cc00"/>
<rect x="420.20" y="73.09" width="26.80" height="10.04" fill="#990000"/>
<rect x="446.00" y="73.09" width="26.90" height="10.04" fill="#ff0000"/>
<rect x="471.90" y="73.09" width="26.20" height="10.04" fill="#00ff00"/>
<rect x="497.10" y="73.09" width="26.90" height="10.04" fill="#440000"/>
<rect x="523.00" y="73.09" width="26.05" height="10.04" fill="#00cc00"/>
<rect x="420.20" y="82.13" width="26.80" height="10.04" fill="#ff0000"/>
<rect x="446.00" y="82.13" width="26.90" height="10.04" fill="#990000"/>
<rect x="471.90" y="82.13" width="26.20" height="10.04" fill="#00cc00"/>
<rect x="497.10" y="82.13" width="26.90" height="10.04" fill="#004400"/>
<rect x="523.00" y="82.13" width="26.05" height="10.04" fill="#00cc00"/>
<rect x="420.20" y="91.17" width="26.80" height="10.04" fill="#ff0000"/>
<rect x="446.00" y="91.17" width="26.90" height="10.04" fill="#660000"/>
<rect x="471.90" y="91.17" width="26.20" height="10.04" fill="#009900"/>
<rect x="497.10" y="91.17" width="26.90" height="10.04" fill="#000000"/>
<rect x="523.00" y="91.17" width="26.05" height="10.04" fill="#00ff00"/>
<rect x="420.20" y="100.22" width="26.80" height="10.04" fill="#cc0000"/>
<rect x="446.00" y="100.22" width="26.90" height="10.04" fill="#cc0000"/>
<rect x="471.90" y="100.22" width="26.20" height="10.04" fill="#004400"/>
<rect x="497.10" y="100.22" width="26.90" height="10.04" fill="#004400"/>
<rect x="523.00" y="100.22" width="26.05" height="10.04" fill="#00ff00"/>
<rect x="420.20" y="109.26" width="26.80" height="10.04" fill="#ff0000"/>
<rect x="446.00" y="109.26" width="26.90" height="10.04" fill="#660000"/>
<rect x="471.90" y="109.26" width="26.20" height="10.04" fill="#000000"/>
<rect x="497.10" y="109.26" width="26.90" height="10.04" fill="#000000"/>
<rect x="523.00" y="109.26" width="26.05" height="10.04" fill="#00ff00"/>
<rect x="420.20" y="118.30" width="26.80" height="10.04" fill="#990000"/>
<rect x="446.00" y="118.30" width="26.90" height="10.04" fill="#990000"/>
<rect x="471.90" y="118.30" width="26.20" height="10.04" fill="#440000"/>
<rect x="497.10" y="118.30" width="26.90" height="10.04" fill="#000000"/>
<rect x="523.00" y="118.30" width="26.05" height="10.04" fill="#00ff00"/>
<rect x="420.20" y="127.35" width="26.80" height="10.04" fill="#990000"/>
<rect x="446.00" y="127.35" width="26.90" height="10.04" fill="#990000"/>
<rect x="471.90" y="127.35" width="26.20" height="10.04" fill="#440000"/>
<rect x="497.10" y="127.35" width="26.90" height="10.04" fill="#000000"/>
<rect x="523.00" y="127.35" width="26.05" height="10.04" fill="#00ff00"/>
<rect x="420.20" y="136.39" width="26.80" height="10.04" fill="#990000"/>
<rect x="446.00" y="136.39" width="26.90" height="10.04" fill="#990000"/>
<rect x="471.90" y="136.39" width="26.20" height="10.04" fill="#00ff00"/>
<rect x="497.10" y="136.39" width="26.90" height="10.04" fill="#000000"/>
<rect x="523.00" y="136.39" width="26.05" height="10.04" fill="#990000"/>
<rect x="420.20" y="145.43" width="26.80" height="10.04" fill="#990000"/>
<rect x="446.00" y="145.43" width="26.90" height="10.04" fill="#990000"/>
<rect x="471.90" y="145.43" width="26.20" height="10.04" fill="#00ff00"/>
<rect x="497.10" y="145.43" width="26.90" height="10.04" fill="#000000"/>
<rect x="523.00" y="145.43" width="26.05" height="10.04" fill="#990000"/>
<rect x="420.20" y="154.48" width="26.80" height="10.04" fill="#990000"/>
<rect x="446.00" y="154.48" width="26.90" height="10.04" fill="#990000"/>
<rect x="471.90" y="154.48" width="26.20" height="10.04" fill="#00ff00"/>
<rect x="497.10" y="154.48" width="26.90" height="10.04" fill="#000000"/>
<rect x="523.00" y="154.48" width="26.05" height="10.04" fill="#990000"/>
<rect x="420.20" y="163.52" width="26.80" height="10.04" fill="#990000"/>
<rect x="446.00" y="163.52" width="26.90" height="10.04" fill="#990000"/>
<rect x="471.90" y="163.52" width="26.20" height="10.04" fill="#00ff00"/>
<rect x="497.10" y="163.52" width="26.90" height="10.04" fill="#000000"/>
<rect x="523.00" y="163.52" width="26.05" height="10.04" fill="#990000"/>
<rect x="420.20" y="172.56" width="26.80" height="10.04" fill="#990000"/>
<rect x="446.00" y="172.56" width="26.90" height="10.04" fill="#990000"/>
<rect x="471.90" y="172.56" width="26.20" height="10.04" fill="#00ff00"/>
<rect x="497.10" y="172.56" width="26.90" height="10.04" fill="#004400"/>
<rect x="523.00" y="172.56" width="26.05" height="10.04" fill="#990000"/>
<rect x="420.20" y="181.61" width="26.80" height="10.04" fill="#990000"/>
<rect x="446.00" y="181.61" width="26.90" height="10.04" fill="#990000"/>
<rect x="471.90" y="181.61" width="26.20" height="10.04" fill="#00ff00"/>
<rect x="497.10" y="181.61" width="26.90" height="10.04" fill="#004400"/>
<rect x="523.00" y="181.61" width="26.05" height="10.04" fill="#990000"/>
<rect x="420.20" y="190.65" width="26.80" height="10.04" fill="#660000"/>
<rect x="446.00" y="190.65" width="26.90" height="10.04" fill="#cc0000"/>
<rect x="471.90" y="190.65" width="26.20" height="10.04" fill="#00ff00"/>
<rect x="497.10" y="190.65" width="26.90" height="10.04" fill="#006600"/>
<rect x="523.00" y="190.65" width="26.05" height="10.04" fill="#990000"/>
<rect x="420.20" y="199.69" width="26.80" height="10.04" fill="#660000"/>
<rect x="446.00" y="199.69" width="26.90" height="10.04" fill="#660000"/>
<rect x="471.90" y="199.69" width="26.20" height="10.04" fill="#00ff00"/>
<rect x="497.10" y="199.69" width="26.90" height="10.04" fill="#660000"/>
<rect x="523.00" y="199.69" width="26.05" height="10.04" fill="#660000"/>
<rect x="420.20" y="208.74" width="26.80" height="10.04" fill="#cc0000"/>
<rect x="446.00" y="208.74" width="26.90" height="10.04" fill="#00ff00"/>
<rect x="471.90" y="208.74" width="26.20" height="10.04" fill="#990000"/>
<rect x="497.10" y="208.74" width="26.90" height="10.04" fill="#660000"/>
<rect x="523.00" y="208.74" width="26.05" height="10.04" fill="#004400"/>
<rect x="420.20" y="217.78" width="26.80" height="10.04" fill="#cc0000"/>
<rect x="446.00" y="217.78" width="26.90" height="10.04" fill="#00ff00"/>
<rect x="471.90" y="217.78" width="26.20" height="10.04" fill="#990000"/>
<rect x="497.10" y="217.78" width="26.90" height="10.04" fill="#660000"/>
<rect x="523.00" y="217.78" width="26.05" height="10.04" fill="#004400"/>
<rect x="420.20" y="226.82" width="26.80" height="10.04" fill="#990000"/>
<rect x="446.00" y="226.82" width="26.90" height="10.04" fill="#00ff00"/>
<rect x="471.90" y="226.82" width="26.20" height="10.04" fill="#990000"/>
<rect x="497.10" y="226.82" width="26.90" height="10.04" fill="#990000"/>
<rect x="523.00" y="226.82" width="26.05" height="10.04" fill="#009900"/>
<rect x="420.20" y="235.86" width="26.80" height="10.04" fill="#990000"/>
<rect x="446.00" y="235.86" width="26.90" height="10.04" fill="#00ff00"/>
<rect x="471.90" y="235.86" width="26.20" height="10.04" fill="#990000"/>
<rect x="497.10" y="235.86" width="26.90" height="10.04" fill="#990000"/>
<rect x="523.00" y="235.86" width="26.05" height="10.04" fill="#009900"/>
<rect x="420.20" y="244.91" width="26.80" height="10.04" fill="#000000"/>
<rect x="446.00" y="244.91" width="26.90" height="10.04" fill="#00ff00"/>
<rect x="471.90" y="244.91" width="26.20" height="10.04" fill="#cc0000"/>
<rect x="497.10" y="244.91" width="26.90" height="10.04" fill="#990000"/>
<rect x="523.00" y="244.91" width="26.05" height="10.04" fill="#004400"/>
<rect x="420.20" y="253.95" width="26.80" height="10.04" fill="#990000"/>
<rect x="446.00" y="253.95" width="26.90" height="10.04" fill="#00ff00"/>
<rect x="471.90" y="253.95" width="26.20" height="10.04" fill="#004400"/>
<rect x="497.10" y="253.95" width="26.90" height="10.04" fill="#990000"/>
<rect x="523.00" y="253.95" width="26.05" height="10.04" fill="#660000"/>
<rect x="420.20" y="262.99" width="26.80" height="10.04" fill="#990000"/>
<rect x="446.00" y="262.99" width="26.90" height="10.04" fill="#00ff00"/>
<rect x="471.90" y="262.99" width="26.20" height="10.04" fill="#004400"/>
<rect x="497.10" y="262.99" width="26.90" height="10.04" fill="#990000"/>
<rect x="523.00" y="262.99" width="26.05" height="10.04" fill="#660000"/>
<rect x="420.20" y="272.04" width="26.80" height="10.04" fill="#660000"/>
<rect x="446.00" y="272.04" width="26.90" height="10.04" fill="#00ff00"/>
<rect x="471.90" y="272.04" width="26.20" height="10.04" fill="#660000"/>
<rect x="497.10" y="272.04" width="26.90" height="10.04" fill="#660000"/>
<rect x="523.00" y="272.04" width="26.05" height="10.04" fill="#660000"/>
<rect x="420.20" y="281.08" width="26.80" height="10.04" fill="#ff0000"/>
<rect x="446.00" y="281.08" width="26.90" height="10.04" fill="#00cc00"/>
<rect x="471.90" y="281.08" width="26.20" height="10.04" fill="#000000"/>
<rect x="497.10" y="281.08" width="26.90" height="10.04" fill="#440000"/>
<rect x="523.00" y="281.08" width="26.05" height="10.04" fill="#00cc00"/>
<rect x="420.20" y="290.12" width="26.80" height="10.04" fill="#ff0000"/>
<rect x="446.00" y="290.12" width="26.90" height="10.04" fill="#009900"/>
<rect x="471.90" y="290.12" width="26.20" height="10.04" fill="#004400"/>
<rect x="497.10" y="290.12" width="26.90" height="10.04" fill="#990000"/>
<rect x="523.00" y="290.12" width="26.05" height="10.04" fill="#00ff00"/>
<rect x="420.20" y="299.17" width="26.80" height="10.04" fill="#ff0000"/>
<rect x="446.00" y="299.17" width="26.90" height="10.04" fill="#009900"/>
<rect x="471.90" y="299.17" width="26.20" height="10.04" fill="#990000"/>
<rect x="497.10" y="299.17" width="26.90" height="10.04" fill="#009900"/>
<rect x="523.00" y="299.17" width="26.05" height="10.04" fill="#009900"/>
<rect x="420.20" y="308.21" width="26.80" height="10.04" fill="#00ff00"/>
<rect x="446.00" y="308.21" width="26.90" height="10.04" fill="#660000"/>
<rect x="471.90" y="308.21" width="26.20" height="10.04" fill="#660000"/>
<rect x="497.10" y="308.21" width="26.90" height="10.04" fill="#660000"/>
<rect x="523.00" y="308.21" width="26.05" height="10.04" fill="#660000"/>
<rect x="420.20" y="317.25" width="26.80" height="10.04" fill="#00ff00"/>
<rect x="446.00" y="317.25" width="26.90" height="10.04" fill="#660000"/>
<rect x="471.90" y="317.25" width="26.20" height="10.04" fill="#660000"/>
<rect x="497.10" y="317.25" width="26.90" height="10.04" fill="#660000"/>
<rect x="523.00" y="317.25" width="26.05" height="10.04" fill="#660000"/>
<rect x="420.20" y="326.30" width="26.80" height="10.04" fill="#00ff00"/>
<rect x="446.00" y="326.30" width="26.90" height="10.04" fill="#660000"/>
<rect x="471.90" y="326.30" width="26.20" height="10.04" fill="#660000"/>
<rect x="497.10" y="326.30" width="26.90" height="10.04" fill="#660000"/>
<rect x="523.00" y="326.30" width="26.05" height="10.04" fill="#660000"/>
<rect x="420.20" y="335.34" width="26.80" height="10.04" fill="#00ff00"/>
<rect x="446.00" y="335.34" width="26.90" height="10.04" fill="#660000"/>
<rect x="471.90" y="335.34" width="26.20" height="10.04" fill="#660000"/>
<rect x="497.10" y="335.34" width="26.90" height="10.04" fill="#660000"/>
<rect x="523.00" y="335.34" width="26.05" height="10.04" fill="#660000"/>
<rect x="420.20" y="344.38" width="26.80" height="10.04" fill="#00ff00"/>
<rect x="446.00" y="344.38" width="26.90" height="10.04" fill="#660000"/>
<rect x="471.90" y="344.38" width="26.20" height="10.04" fill="#660000"/>
<rect x="497.10" y="344.38" width="26.90" height="10.04" fill="#660000"/>
<rect x="523.00" y="344.38" width="26.05" height="10.04" fill="#660000"/>
<rect x="420.20" y="353.43" width="26.80" height="10.04" fill="#00ff00"/>
<rect x="446.00" y="353.43" width="26.90" height="10.04" fill="#440000"/>
<rect x="471.90" y="353.43" width="26.20" height="10.04" fill="#660000"/>
<rect x="497.10" y="353.43" width="26.90" height="10.04" fill="#660000"/>
<rect x="523.00" y="353.43" width="26.05" height="10.04" fill="#660000"/>
<rect x="420.20" y="362.47" width="26.80" height="10.04" fill="#00ff00"/>
<rect x="446.00" y="362.47" width="26.90" height="10.04" fill="#660000"/>
<rect x="471.90" y="362.47" width="26.20" height="10.04" fill="#990000"/>
<rect x="497.10" y="362.47" width="26.90" height="10.04" fill="#990000"/>
<rect x="523.00" y="362.47" width="26.05" height="10.04" fill="#004400"/>
<rect x="420.20" y="371.51" width="26.80" height="10.04" fill="#00ff00"/>
<rect x="446.00" y="371.51" width="26.90" height="10.04" fill="#ff0000"/>
<rect x="471.90" y="371.51" width="26.20" height="10.04" fill="#009900"/>
<rect x="497.10" y="371.51" width="26.90" height="10.04" fill="#440000"/>
<rect x="523.00" y="371.51" width="26.05" height="10.04" fill="#cc0000"/>
<rect x="420.20" y="380.56" width="26.80" height="9.04" fill="#00ff00"/>
<rect x="446.00" y="380.56" width="26.90" height="9.04" fill="#00cc00"/>
<rect x="471.90" y="380.56" width="26.20" height="9.04" fill="#990000"/>
<rect x="497.10" y="380.56" width="26.90" height="9.04" fill="#990000"/>
<rect x="523.00" y="380.56" width="26.05" height="9.04" fill="#990000"/>
</g>
<line x1="549.10" y1="55.00" x2="551.60" y2="55.00" stroke="#aaa" stroke-width="0.7" shape-rendering="auto"/>
<line x1="549.10" y1="64.04" x2="551.60" y2="64.04" stroke="#aaa" stroke-width="0.7" shape-rendering="auto"/>
<line x1="549.10" y1="73.09" x2="551.60" y2="73.09" stroke="#aaa" stroke-width="0.7" shape-rendering="auto"/>
<line x1="549.10" y1="82.13" x2="551.60" y2="82.13" stroke="#aaa" stroke-width="0.7" shape-rendering="auto"/>
<line x1="549.10" y1="91.17" x2="551.60" y2="91.17" stroke="#aaa" stroke-width="0.7" shape-rendering="auto"/>
<line x1="549.10" y1="100.22" x2="551.60" y2="100.22" stroke="#aaa" stroke-width="0.7" shape-rendering="auto"/>
<line x1="549.10" y1="109.26" x2="551.60" y2="109.26" stroke="#aaa" stroke-width="0.7" shape-rendering="auto"/>
<line x1="549.10" y1="118.30" x2="551.60" y2="118.30" stroke="#aaa" stroke-width="0.7" shape-rendering="auto"/>
<line x1="549.10" y1="127.35" x2="551.60" y2="127.35" stroke="#aaa" stroke-width="0.7" shape-rendering="auto"/>
<line x1="549.10" y1="136.39" x2="551.60" y2="136.39" stroke="#aaa" stroke-width="0.7" shape-rendering="auto"/>
<line x1="549.10" y1="145.43" x2="551.60" y2="145.43" stroke="#aaa" stroke-width="0.7" shape-rendering="auto"/>
<line x1="549.10" y1="154.48" x2="551.60" y2="154.48" stroke="#aaa" stroke-width="0.7" shape-rendering="auto"/>
<line x1="549.10" y1="163.52" x2="551.60" y2="163.52" stroke="#aaa" stroke-width="0.7" shape-rendering="auto"/>
<line x1="549.10" y1="172.56" x2="551.60" y2="172.56" stroke="#aaa" stroke-width="0.7" shape-rendering="auto"/>
<line x1="549.10" y1="181.61" x2="551.60" y2="181.61" stroke="#aaa" stroke-width="0.7" shape-rendering="auto"/>
<line x1="549.10" y1="190.65" x2="551.60" y2="190.65" stroke="#aaa" stroke-width="0.7" shape-rendering="auto"/>
<line x1="549.10" y1="199.69" x2="551.60" y2="199.69" stroke="#aaa" stroke-width="0.7" shape-rendering="auto"/>
<line x1="549.10" y1="208.74" x2="551.60" y2="208.74" stroke="#aaa" stroke-width="0.7" shape-rendering="auto"/>
<line x1="549.10" y1="217.78" x2="551.60" y2="217.78" stroke="#aaa" stroke-width="0.7" shape-rendering="auto"/>
<line x1="549.10" y1="226.82" x2="551.60" y2="226.82" stroke="#aaa" stroke-width="0.7" shape-rendering="auto"/>
<line x1="549.10" y1="235.86" x2="551.60" y2="235.86" stroke="#aaa" stroke-width="0.7" shape-rendering="auto"/>
<line x1="549.10" y1="244.91" x2="551.60" y2="244.91" stroke="#aaa" stroke-width="0.7" shape-rendering="auto"/>
<line x1="549.10" y1="253.95" x2="551.60" y2="253.95" stroke="#aaa" stroke-width="0.7" shape-rendering="auto"/>
<line x1="549.10" y1="262.99" x2="551.60" y2="262.99" stroke="#aaa" stroke-width="0.7" shape-rendering="auto"/>
<line x1="549.10" y1="272.04" x2="551.60" y2="272.04" stroke="#aaa" stroke-width="0.7" shape-rendering="auto"/>
<line x1="549.10" y1="281.08" x2="551.60" y2="281.08" stroke="#aaa" stroke-width="0.7" shape-rendering="auto"/>
<line x1="549.10" y1="290.12" x2="551.60" y2="290.12" stroke="#aaa" stroke-width="0.7" shape-rendering="auto"/>
<line x1="549.10" y1="299.17" x2="551.60" y2="299.17" stroke="#aaa" stroke-width="0.7" shape-rendering="auto"/>
<line x1="549.10" y1="308.21" x2="551.60" y2="308.21" stroke="#aaa" stroke-width="0.7" shape-rendering="auto"/>
<line x1="549.10" y1="317.25" x2="551.60" y2="317.25" stroke="#aaa" stroke-width="0.7" shape-rendering="auto"/>
<line x1="549.10" y1="326.30" x2="551.60" y2="326.30" stroke="#aaa" stroke-width="0.7" shape-rendering="auto"/>
<line x1="549.10" y1="335.34" x2="551.60" y2="335.34" stroke="#aaa" stroke-width="0.7" shape-rendering="auto"/>
<line x1="549.10" y1="344.38" x2="551.60" y2="344.38" stroke="#aaa" stroke-width="0.7" shape-rendering="auto"/>
<line x1="549.10" y1="353.43" x2="551.60" y2="353.43" stroke="#aaa" stroke-width="0.7" shape-rendering="auto"/>
<line x1="549.10" y1="362.47" x2="551.60" y2="362.47" stroke="#aaa" stroke-width="0.7" shape-rendering="auto"/>
<line x1="549.10" y1="371.51" x2="551.60" y2="371.51" stroke="#aaa" stroke-width="0.7" shape-rendering="auto"/>
<line x1="549.10" y1="380.56" x2="551.60" y2="380.56" stroke="#aaa" stroke-width="0.7" shape-rendering="auto"/>
<line x1="549.10" y1="389.60" x2="551.60" y2="389.60" stroke="#aaa" stroke-width="0.7" shape-rendering="auto"/>
<line x1="420.20" y1="389.60" x2="420.20" y2="391.60" stroke="#c8c8c8" stroke-width="0.6" shape-rendering="auto"/>
<line x1="446.00" y1="389.60" x2="446.00" y2="391.60" stroke="#c8c8c8" stroke-width="0.6" shape-rendering="auto"/>
<line x1="471.90" y1="389.60" x2="471.90" y2="391.60" stroke="#c8c8c8" stroke-width="0.6" shape-rendering="auto"/>
<line x1="497.10" y1="389.60" x2="497.10" y2="391.60" stroke="#c8c8c8" stroke-width="0.6" shape-rendering="auto"/>
<line x1="523.00" y1="389.60" x2="523.00" y2="391.60" stroke="#c8c8c8" stroke-width="0.6" shape-rendering="auto"/>
<line x1="549.05" y1="389.60" x2="549.05" y2="391.60" stroke="#c8c8c8" stroke-width="0.6" shape-rendering="auto"/>
<g font-size="5.5" fill="#000" stroke="#000" stroke-width="0.1">
<text transform="translate(554.6,61.622) scale(1.0909,1) rotate(0.05)">IV-leaf/fruit/seed,animal_material</text>
<text transform="translate(554.6,70.665) scale(1.0909,1) rotate(0.05)">I-plant_pathogen</text>
<text transform="translate(554.6,79.708) scale(1.0909,1) rotate(0.05)">V-filamentous_mycelium</text>
<text transform="translate(554.6,88.751) scale(1.0909,1) rotate(0.05)">IV-leaf/fruit/seed</text>
<text transform="translate(554.6,97.795) scale(1.0909,1) rotate(0.05)">I-unspecified_saprotroph</text>
<text transform="translate(554.6,106.838) scale(1.0909,1) rotate(0.05)">III-root-associated</text>
<text transform="translate(554.6,115.881) scale(1.0909,1) rotate(0.05)">I-soil_saprotroph</text>
<text transform="translate(554.6,124.924) scale(1.0909,1) rotate(0.05)">IV-roots,soil</text>
<text transform="translate(554.6,133.968) scale(1.0909,1) rotate(0.05)">II-root-associated</text>
<text transform="translate(554.6,143.011) scale(1.0909,1) rotate(0.05)">III-algal_parasite</text>
<text transform="translate(554.6,152.054) scale(1.0909,1) rotate(0.05)">I-pollen_saprotroph</text>
<text transform="translate(554.6,161.097) scale(1.0909,1) rotate(0.05)">IV-pollen</text>
<text transform="translate(554.6,170.141) scale(1.0909,1) rotate(0.05)">V-zoosporic-rhizomycelial_(chytrid-like)</text>
<text transform="translate(554.6,179.184) scale(1.0909,1) rotate(0.05)">IV-leaf/fruit/seed,soil,fungal_material</text>
<text transform="translate(554.6,188.227) scale(1.0909,1) rotate(0.05)">I-mycoparasite</text>
<text transform="translate(554.6,197.270) scale(1.0909,1) rotate(0.05)">II-root_endophyte_dark_septate</text>
<text transform="translate(554.6,206.314) scale(1.0909,1) rotate(0.05)">IV-leaf/fruit/seed,soil,animal_material</text>
<text transform="translate(554.6,215.357) scale(1.0909,1) rotate(0.05)">IV-leaf/fruit/seed,roots,animal_material,sugar-...</text>
<text transform="translate(554.6,224.400) scale(1.0909,1) rotate(0.05)">I-sooty_mold</text>
<text transform="translate(554.6,233.443) scale(1.0909,1) rotate(0.05)">V-thallus_photosynthetic</text>
<text transform="translate(554.6,242.486) scale(1.0909,1) rotate(0.05)">I-lichenized</text>
<text transform="translate(554.6,251.530) scale(1.0909,1) rotate(0.05)">II-foliar_endophyte</text>
<text transform="translate(554.6,260.573) scale(1.0909,1) rotate(0.05)">IV-wood</text>
<text transform="translate(554.6,269.616) scale(1.0909,1) rotate(0.05)">I-wood_saprotroph</text>
<text transform="translate(554.6,278.659) scale(1.0909,1) rotate(0.05)">II-no_endophytic_capacity</text>
<text transform="translate(554.6,287.703) scale(1.0909,1) rotate(0.05)">V-dimorphic_yeast</text>
<text transform="translate(554.6,296.746) scale(1.0909,1) rotate(0.05)">III-leaf/fruit/seed_pathogen</text>
<text transform="translate(554.6,305.789) scale(1.0909,1) rotate(0.05)">IV-soil</text>
<text transform="translate(554.6,314.832) scale(1.0909,1) rotate(0.05)">IV-sugar-rich_substrates</text>
<text transform="translate(554.6,323.876) scale(1.0909,1) rotate(0.05)">IV-leaf/fruit/seed,roots,soil,animal_material</text>
<text transform="translate(554.6,332.919) scale(1.0909,1) rotate(0.05)">IV-wood,leaf/fruit/seed,soil,dung,animal_material</text>
<text transform="translate(554.6,341.962) scale(1.0909,1) rotate(0.05)">I-nectar/tap_saprotroph</text>
<text transform="translate(554.6,351.005) scale(1.0909,1) rotate(0.05)">V-yeast</text>
<text transform="translate(554.6,360.049) scale(1.0909,1) rotate(0.05)">IV-animal_material,sugar-rich_substrates</text>
<text transform="translate(554.6,369.092) scale(1.0909,1) rotate(0.05)">I-litter_saprotroph</text>
<text transform="translate(554.6,378.135) scale(1.0909,1) rotate(0.05)">I-animal_parasite</text>
<text transform="translate(554.6,387.178) scale(1.0909,1) rotate(0.05)">IV-animal_material</text>
</g>
<text transform="translate(433.95,395.0) rotate(-89.95)" font-size="5.9" text-anchor="end" fill="#000" stroke="#000" stroke-width="0.1" textLength="19.5" lengthAdjust="spacingAndGlyphs">NT MA1</text>
<text transform="translate(461.05,394.0) rotate(-89.95)" font-size="5.9" text-anchor="end" fill="#000" stroke="#000" stroke-width="0.1" textLength="19.5" lengthAdjust="spacingAndGlyphs">NT MA2</text>
<text transform="translate(485.55,394.0) rotate(-89.95)" font-size="5.9" text-anchor="end" fill="#000" stroke="#000" stroke-width="0.1" textLength="19.5" lengthAdjust="spacingAndGlyphs">PR MA1</text>
<text transform="translate(512.00,394.0) rotate(-89.95)" font-size="5.9" text-anchor="end" fill="#000" stroke="#000" stroke-width="0.1" textLength="19.5" lengthAdjust="spacingAndGlyphs">PR MA2</text>
<text transform="translate(535.25,394.0) rotate(-89.95)" font-size="5.9" text-anchor="end" fill="#000" stroke="#000" stroke-width="0.1" textLength="19.5" lengthAdjust="spacingAndGlyphs">PR MA3</text>
<line x1="428.6" y1="8.7" x2="474.9" y2="8.7" stroke="#a2a2a2" stroke-width="1.1" fill="none" shape-rendering="auto"/>
<line x1="428.6" y1="8.7" x2="428.6" y2="49.6" stroke="#7c7c7c" stroke-width="1.1" fill="none" shape-rendering="auto"/>
<line x1="474.9" y1="8.7" x2="474.9" y2="18.4" stroke="#7c7c7c" stroke-width="1.1" fill="none" shape-rendering="auto"/>
<line x1="453.3" y1="18.4" x2="496.7" y2="18.4" stroke="#a2a2a2" stroke-width="1.1" fill="none" shape-rendering="auto"/>
<line x1="453.3" y1="18.4" x2="453.3" y2="49.6" stroke="#7c7c7c" stroke-width="1.1" fill="none" shape-rendering="auto"/>
<line x1="496.7" y1="18.4" x2="496.7" y2="30.2" stroke="#7c7c7c" stroke-width="1.1" fill="none" shape-rendering="auto"/>
<line x1="478.4" y1="30.2" x2="515.5" y2="30.2" stroke="#a2a2a2" stroke-width="1.1" fill="none" shape-rendering="auto"/>
<line x1="478.4" y1="30.2" x2="478.4" y2="49.6" stroke="#7c7c7c" stroke-width="1.1" fill="none" shape-rendering="auto"/>
<line x1="515.5" y1="30.2" x2="515.5" y2="40.0" stroke="#7c7c7c" stroke-width="1.1" fill="none" shape-rendering="auto"/>
<line x1="502.9" y1="40.0" x2="527.8" y2="40.0" stroke="#a2a2a2" stroke-width="1.1" fill="none" shape-rendering="auto"/>
<line x1="502.9" y1="40.0" x2="502.9" y2="49.6" stroke="#7c7c7c" stroke-width="1.1" fill="none" shape-rendering="auto"/>
<line x1="527.8" y1="40.0" x2="527.8" y2="49.6" stroke="#7c7c7c" stroke-width="1.1" fill="none" shape-rendering="auto"/>
<line x1="365.5" y1="207.3" x2="365.5" y2="377.5" stroke="#999" stroke-width="1" fill="none" shape-rendering="auto"/>
<line x1="365.5" y1="207.3" x2="374.2" y2="207.3" stroke="#999" stroke-width="1" fill="none" shape-rendering="auto"/>
<line x1="365.5" y1="377.5" x2="409.8" y2="377.5" stroke="#999" stroke-width="1" fill="none" shape-rendering="auto"/>
<line x1="374.2" y1="141.2" x2="374.2" y2="273.7" stroke="#999" stroke-width="1" fill="none" shape-rendering="auto"/>
<line x1="374.2" y1="141.2" x2="393.4" y2="141.2" stroke="#999" stroke-width="1" fill="none" shape-rendering="auto"/>
<line x1="374.2" y1="273.7" x2="406.6" y2="273.7" stroke="#999" stroke-width="1" fill="none" shape-rendering="auto"/>
<line x1="393.4" y1="92.7" x2="393.4" y2="189.6" stroke="#999" stroke-width="1" fill="none" shape-rendering="auto"/>
<line x1="393.4" y1="92.7" x2="408.4" y2="92.7" stroke="#999" stroke-width="1" fill="none" shape-rendering="auto"/>
<line x1="393.4" y1="189.6" x2="410.5" y2="189.6" stroke="#999" stroke-width="1" fill="none" shape-rendering="auto"/>
<line x1="408.4" y1="73.2" x2="408.4" y2="112.2" stroke="#999" stroke-width="1" fill="none" shape-rendering="auto"/>
<line x1="408.4" y1="73.2" x2="410.5" y2="73.2" stroke="#999" stroke-width="1" fill="none" shape-rendering="auto"/>
<line x1="408.4" y1="112.2" x2="410.5" y2="112.2" stroke="#999" stroke-width="1" fill="none" shape-rendering="auto"/>
<line x1="408.6" y1="234.8" x2="408.6" y2="267.6" stroke="#999" stroke-width="1" fill="none" shape-rendering="auto"/>
<line x1="408.6" y1="234.8" x2="410.5" y2="234.8" stroke="#999" stroke-width="1" fill="none" shape-rendering="auto"/>
<line x1="408.6" y1="267.6" x2="410.5" y2="267.6" stroke="#999" stroke-width="1" fill="none" shape-rendering="auto"/>
<line x1="406.6" y1="251.2" x2="406.6" y2="295.3" stroke="#999" stroke-width="1" fill="none" shape-rendering="auto"/>
<line x1="406.6" y1="251.2" x2="408.6" y2="251.2" stroke="#999" stroke-width="1" fill="none" shape-rendering="auto"/>
<line x1="406.6" y1="295.3" x2="410.5" y2="295.3" stroke="#999" stroke-width="1" fill="none" shape-rendering="auto"/>
<line x1="409.5" y1="358.8" x2="409.5" y2="386.5" stroke="#999" stroke-width="1" fill="none" shape-rendering="auto"/>
<line x1="410.5" y1="52" x2="410.5" y2="88" stroke="#bbb" stroke-width="0.9" shape-rendering="auto"/>
<line x1="410.5" y1="62.6" x2="410.5" y2="71.3" stroke="#888" stroke-width="0.9" shape-rendering="auto"/>
<line x1="410.5" y1="77" x2="410.5" y2="82.8" stroke="#888" stroke-width="0.9" shape-rendering="auto"/>
<line x1="410.5" y1="97" x2="410.5" y2="125" stroke="#ccc" stroke-width="0.9" shape-rendering="auto"/>
<line x1="410.5" y1="135" x2="410.5" y2="200" stroke="#d0d0d0" stroke-width="0.9" shape-rendering="auto"/>
<line x1="410.5" y1="178" x2="410.5" y2="190" stroke="#999" stroke-width="0.9" shape-rendering="auto"/>
<line x1="410.5" y1="209.7" x2="410.5" y2="236.7" stroke="#c8c8c8" stroke-width="0.9" shape-rendering="auto"/>
<line x1="410.5" y1="225" x2="410.5" y2="236" stroke="#999" stroke-width="0.9" shape-rendering="auto"/>
<line x1="410.5" y1="260" x2="410.5" y2="270" stroke="#999" stroke-width="0.9" shape-rendering="auto"/>
<line x1="410.5" y1="284.7" x2="410.5" y2="304" stroke="#bbb" stroke-width="0.9" shape-rendering="auto"/>
<line x1="410.5" y1="311.7" x2="410.5" y2="356" stroke="#e0e0e0" stroke-width="0.9" shape-rendering="auto"/>
<line x1="410.5" y1="350" x2="410.5" y2="378" stroke="#bbb" stroke-width="0.9" shape-rendering="auto"/>
<line x1="409.5" y1="378" x2="409.5" y2="386.5" stroke="#bbb" stroke-width="0.9" shape-rendering="auto"/>
</svg>
</body></html>
